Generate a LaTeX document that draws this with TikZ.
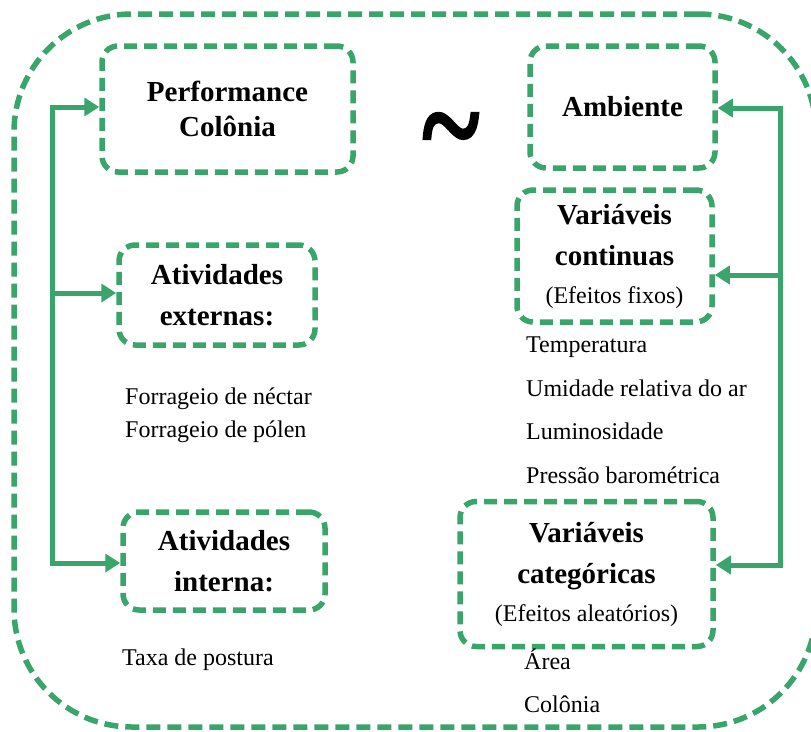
\documentclass[tikz,border=0pt]{standalone}
\usepackage{fontspec}
\setmainfont{Liberation Serif}
\newfontfamily\tildefont{Liberation Serif}[FakeBold=3]
\usetikzlibrary{arrows.meta}
\definecolor{grn}{RGB}{58,165,106}
\newcommand\subtxt{\normalfont\fontsize{24}{28}\selectfont}
\begin{document}
\begin{tikzpicture}[x=1pt,y=-1pt,
  box/.style={draw=grn, line width=5.5pt, dash pattern=on 13pt off 7pt, rounded corners=16pt,
    inner sep=0pt, align=center, font=\fontsize{29}{41}\selectfont\bfseries},
  framebox/.style={draw=grn, line width=5.5pt, dash pattern=on 14pt off 7pt, rounded corners=118pt, inner sep=0pt},
  conn/.style={draw=grn, line width=5pt},
  tip/.style={-{Triangle[length=15pt,width=18pt]}},
  tips/.style={{Triangle[length=15pt,width=18pt]}-{Triangle[length=15pt,width=18pt]}},
  item/.style={anchor=base west, inner sep=0pt, font=\fontsize{24}{28}\selectfont}
]
\clip (0,0) rectangle (811,731);
\useasboundingbox (0,0) rectangle (811,731);

\node[framebox, minimum width=802pt, minimum height=713pt] (frame) at (415,370.5) {};

% left boxes
\node[box, minimum width=251pt, minimum height=126pt] (perf) at (227.5,109) {Performance\\[-6pt]Colônia};
\node[box, minimum width=196pt, minimum height=100pt] (ext) at (217,295) {Atividades\\externas:};
\node[box, minimum width=202pt, minimum height=98pt] (int) at (224,561) {Atividades\\interna:};

% right boxes
\node[box, minimum width=185pt, minimum height=122pt] (amb) at (622.5,107) {Ambiente};
\node[box, minimum width=195pt, minimum height=132pt] (vcont) at (614.5,256) {Variáveis\\continuas\\[-3pt]{\subtxt (Efeitos fixos)}};
\node[box, minimum width=253pt, minimum height=145pt] (vcat) at (586.5,574) {Variáveis\\categóricas\\[-3pt]{\subtxt (Efeitos aleatórios)}};

% tilde
\node[anchor=base, inner sep=0pt] (tilde) at (451,173) {\fontsize{110}{110}\selectfont\tildefont\scalebox{1}[1.3]{\char"7E}};

% item texts
\node[item] (fn) at (125,404) {Forrageio de néctar};
\node[item] (fp) at (125,437) {Forrageio de pólen};
\node[item] (tax) at (122,665) {Taxa de postura};
\node[item] (temp) at (526,352) {Temperatura};
\node[item] (umid) at (526,396) {Umidade relativa do ar};
\node[item] (lum) at (526,439) {Luminosidade};
\node[item] (pres) at (526,483) {Pressão barométrica};
\node[item] (area) at (524,669) {Área};
\node[item] (col) at (524,712) {Colônia};

% left connectors
\coordinate (lt) at (52,107);
\coordinate (lm) at (52,293);
\coordinate (lb) at (52,563);
\draw[conn, tips] (lt -| perf.west) -- (lt) -- (lb) -- (lb -| int.west);
\draw[conn, tip] (lm) -- (lm -| ext.west);

% right connectors
\coordinate (rt) at (780,108);
\coordinate (rm) at (780,275);
\coordinate (rb) at (780,565);
\draw[conn, tips] (rt -| amb.east) -- (rt) -- (rb) -- (rb -| vcat.east);
\draw[conn, tip] (rm) -- (rm -| vcont.east);
\end{tikzpicture}
\end{document}
